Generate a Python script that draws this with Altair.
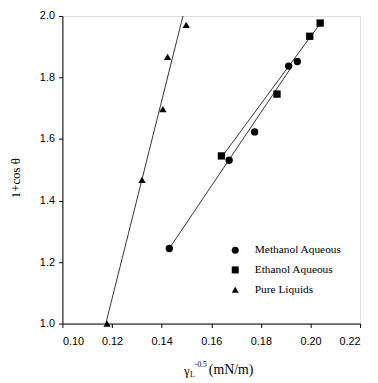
import altair as alt
import pandas as pd

# Data
series_names = ["Methanol Aqueous", "Ethanol Aqueous", "Pure Liquids"]

meth_x = [0.1431, 0.1672, 0.1775, 0.1912, 0.1947]
meth_y = [1.244, 1.531, 1.623, 1.837, 1.852]

eth_x = [0.1641, 0.1865, 0.1997, 0.2039]
eth_y = [1.545, 1.746, 1.934, 1.977]

pure_x = [0.1180, 0.1321, 0.1405, 0.1424, 0.1499]
pure_y = [1.000, 1.467, 1.697, 1.867, 1.971]

# fitted lines (endpoints)
fit_meth_x = [0.1431, 0.1920]
fit_meth_y = [1.244, 1.830]
fit_eth_x = [0.1641, 0.2039]
fit_eth_y = [1.540, 1.975]
fit_pure_x = [0.1175, 0.1486]
fit_pure_y = [1.000, 2.000]

x_ticks = [0.10, 0.12, 0.14, 0.16, 0.18, 0.20, 0.22]
y_ticks = [1.0, 1.2, 1.4, 1.6, 1.8, 2.0]

pts = pd.DataFrame(
    [{"x": a, "y": b, "s": series_names[0]} for a, b in zip(meth_x, meth_y)]
    + [{"x": a, "y": b, "s": series_names[1]} for a, b in zip(eth_x, eth_y)]
    + [{"x": a, "y": b, "s": series_names[2]} for a, b in zip(pure_x, pure_y)]
)
lines = pd.DataFrame(
    [{"x": a, "y": b, "s": series_names[0]} for a, b in zip(fit_meth_x, fit_meth_y)]
    + [{"x": a, "y": b, "s": series_names[1]} for a, b in zip(fit_eth_x, fit_eth_y)]
    + [{"x": a, "y": b, "s": series_names[2]} for a, b in zip(fit_pure_x, fit_pure_y)]
)

xscale = alt.Scale(domain=[0.10, 0.22], nice=False, zero=False)
yscale = alt.Scale(domain=[1.0, 2.0], nice=False, zero=False)

xaxis = alt.Axis(values=x_ticks, format=".2f", title=None, grid=False,
                 labelFont="Liberation Sans", labelFontSize=11, labelColor="black",
                 tickColor="black", domainColor="black", tickSize=4, labelPadding=8)
yaxis = alt.Axis(values=y_ticks, format=".1f", title=None, grid=False,
                 labelFont="Liberation Sans", labelFontSize=11, labelColor="black",
                 tickColor="black", domainColor="black", tickSize=4, labelPadding=4)

line_layer = alt.Chart(lines).mark_line(color="black", strokeWidth=0.8).encode(
    x=alt.X("x:Q", scale=xscale, axis=xaxis),
    y=alt.Y("y:Q", scale=yscale, axis=yaxis),
    detail="s:N",
)

point_layer = alt.Chart(pts).mark_point(filled=True, color="black", opacity=1, size=55).encode(
    x=alt.X("x:Q", scale=xscale),
    y=alt.Y("y:Q", scale=yscale),
    shape=alt.Shape("s:N", scale=alt.Scale(domain=series_names,
                                          range=["circle", "square", "triangle-up"]),
                    legend=alt.Legend(title=None, orient="none", legendX=169, legendY=231,
                                      labelFont="Liberation Serif", labelFontSize=11.5,
                                      labelColor="black", symbolFillColor="black",
                                      symbolStrokeColor="black", symbolSize=50,
                                      rowPadding=6, labelOffset=14)),
)

def txt(t, x, y, size, angle=0):
    return alt.Chart(pd.DataFrame({"t": [t]})).mark_text(
        align="left" if angle == 0 else "center", baseline="middle",
        font="Liberation Serif", fontSize=size, color="black", angle=angle
    ).encode(text="t:N", x=alt.value(x), y=alt.value(y))

title_layers = [
    txt("γ", 123, 359, 13),
    txt("L", 129, 363, 8),
    txt("-0.5", 134, 353, 7.5),
    txt("(mN/m)", 148, 358, 14),
    txt("1+cos θ", -47, 164, 13, angle=270),
]

chart = alt.layer(line_layer, point_layer, *title_layers).properties(
    width=301, height=311,
    autosize=alt.AutoSizeParams(type="none"),
    padding={"left": 55, "top": 6, "right": 10, "bottom": 55},
).configure_view(stroke="black", strokeWidth=1).configure(background="white")

chart.save("out.html", embed_options={"renderer": "svg", "actions": False})
